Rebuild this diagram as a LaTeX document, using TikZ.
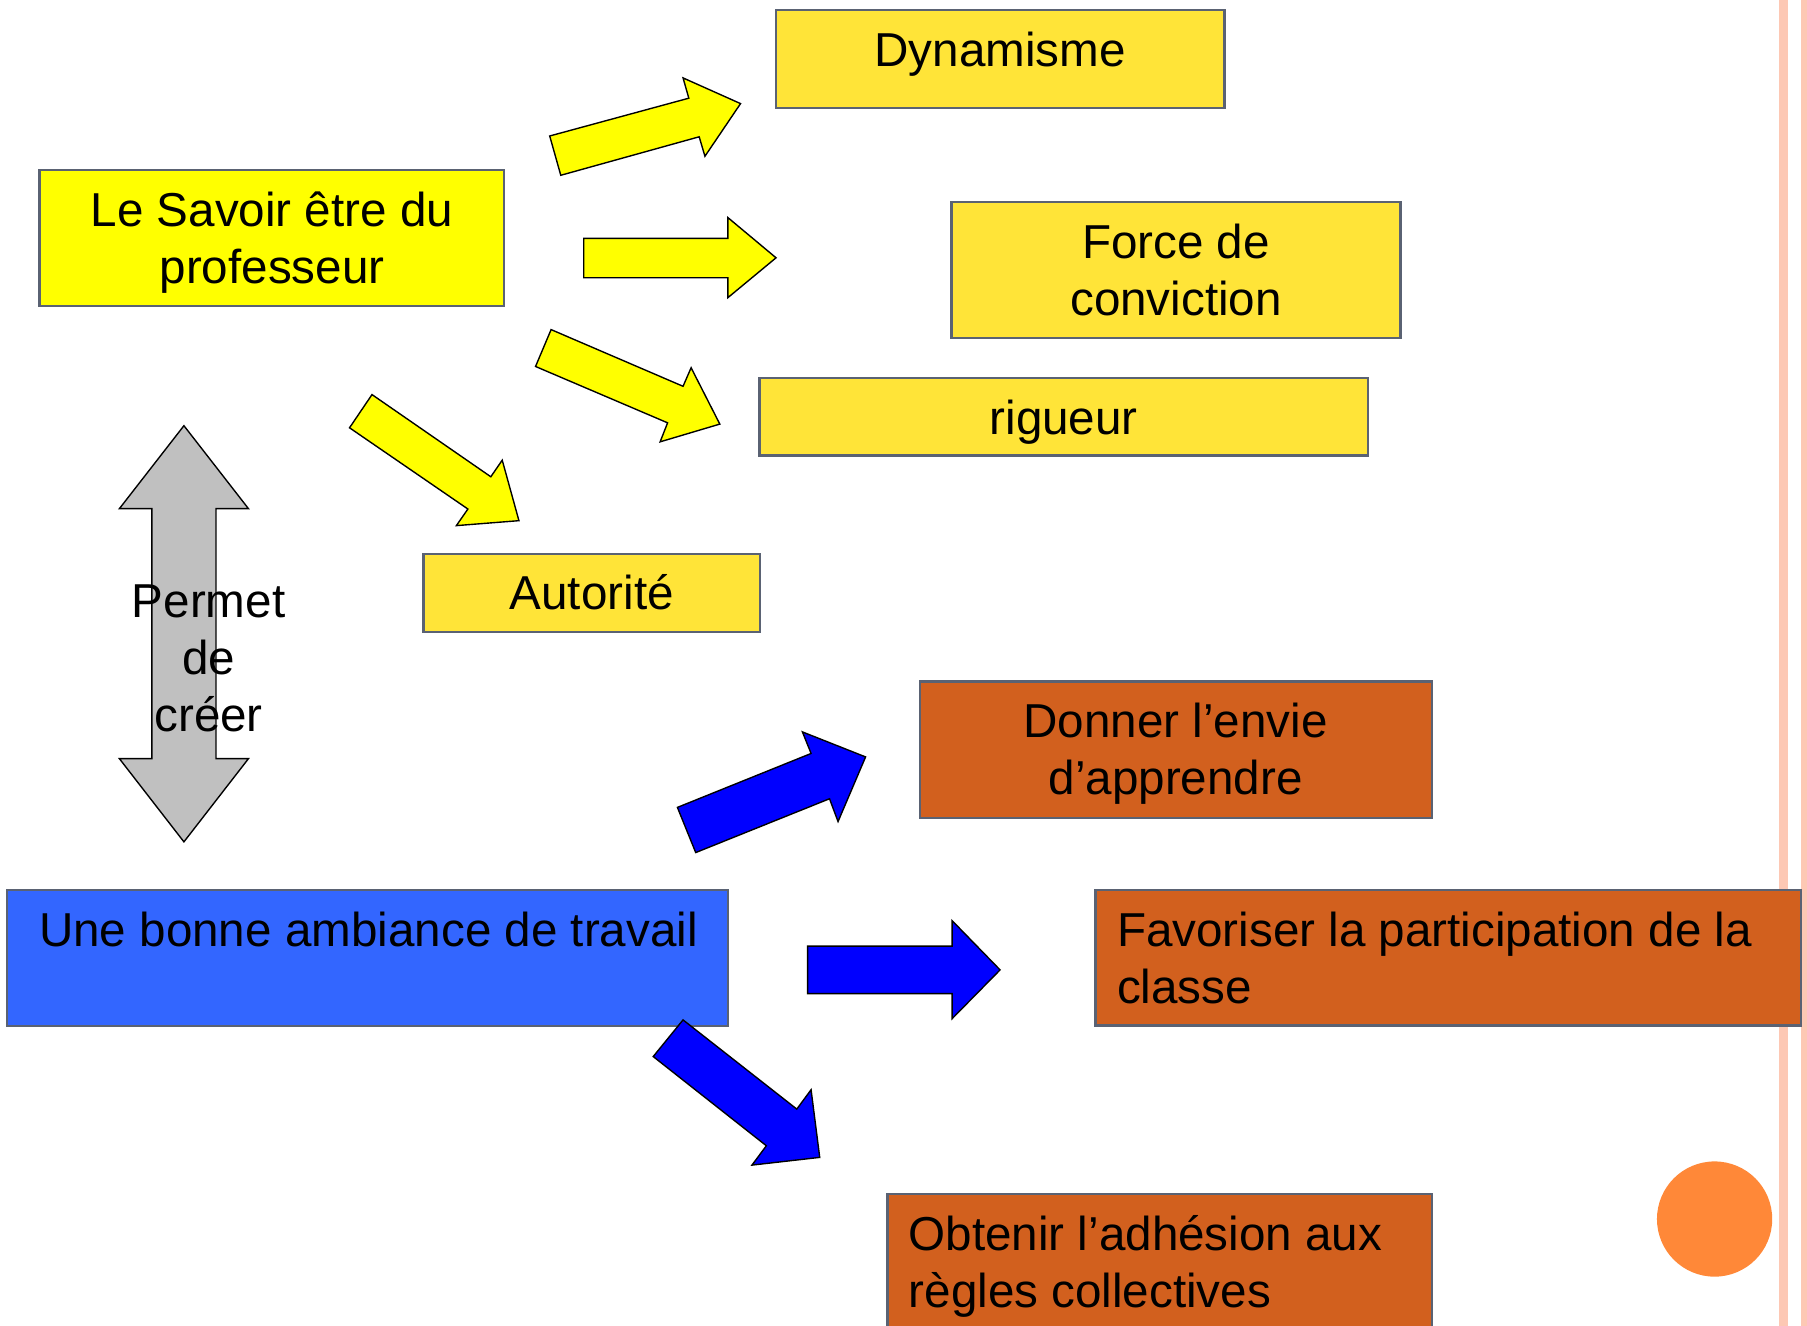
\documentclass[tikz,border=0pt]{standalone}
\usepackage{xcolor}
\usepackage{fontspec}
\setmainfont{Liberation Sans}
\usepackage{tikz}
\usetikzlibrary{positioning, calc}
\definecolor{boxyellow}{RGB}{255,228,56}
\definecolor{pureyellow}{RGB}{255,255,0}
\definecolor{boxorange}{RGB}{210,96,30}
\definecolor{boxblue}{RGB}{51,102,255}
\definecolor{arrowblue}{RGB}{0,0,255}
\definecolor{arrowgray}{RGB}{192,192,192}
\definecolor{boxline}{RGB}{90,98,115}
\definecolor{dotorange}{RGB}{255,136,56}
\definecolor{stripepink}{RGB}{253,200,180}

\begin{document}
\begin{tikzpicture}[x=1pt, y=-1pt,
	every node/.style={inner sep=0pt, outer sep=0pt, font=\fontsize{41.3}{49.5}\selectfont},
	box/.style={draw=boxline, line width=2pt, anchor=north west},
	txt/.style={anchor=base, align=center},
	ltxt/.style={anchor=base west, align=left},
	yarrow/.style={draw=black, line width=1.2pt, fill=pureyellow},
	barrow/.style={draw=black, line width=1.2pt, fill=arrowblue},
	garrow/.style={draw=black, line width=1.2pt, fill=arrowgray}]
	
	\useasboundingbox (0,0) rectangle (1568,1150.6);
	\clip (0,0) rectangle (1568,1150.6);
	
	% bande a droite
	\fill[stripepink] (1544,0) rectangle (1551.5,1150.6);
	\fill[stripepink] (1563,0) rectangle (1568,1150.6);
	
	% le savoir etre (base = derniere ligne)
	\node[box, fill=pureyellow, minimum width=403pt, minimum height=118pt] (savoir) at (34.4,147.5) {};
	\node[txt] (savoirtxt) at (236,246.4) {Le Savoir être du\\professeur};
	
	\node[box, fill=boxyellow, minimum width=389pt, minimum height=85.3pt] (dyn) at (673.4,8.6) {};
	\node[txt] (dyntxt) at (867.8,57.5) {Dynamisme};
	
	\node[box, fill=boxyellow, minimum width=389.5pt, minimum height=118.3pt] (force) at (825.7,175.2) {};
	\node[txt] (forcetxt) at (1020.5,274.1) {Force de\\conviction};
	
	\node[box, fill=boxyellow, minimum width=528pt, minimum height=67.6pt] (rig) at (659,327.7) {};
	\node[txt] (rigtxt) at (923,376.6) {rigueur};
	
	\node[box, fill=boxyellow, minimum width=292pt, minimum height=67.6pt] (aut) at (367.6,480.6) {};
	\node[txt] (auttxt) at (513.5,528.8) {Autorité};
	
	% fleches jaunes
	\draw[yarrow] (477,118) -- (597.7,85.2) -- (592.7,67.6) -- (642.6,89.9) -- (611.7,135.6) -- (606.7,118.7) -- (486.6,152.1) -- cycle;
	\draw[yarrow] (506.5,206.8) -- (631.6,206.8) -- (631.6,188.8) -- (673.4,223.7) -- (631.6,258.3) -- (631.6,241) -- (506.5,241) -- cycle;
	\draw[yarrow] (478.2,286) -- (592.7,335.2) -- (599.7,319.1) -- (624.6,368) -- (572.8,383.4) -- (579.3,366.9) -- (464.7,318) -- cycle;
	\draw[yarrow] (322.8,342.4) -- (425.9,413.7) -- (435.8,399.3) -- (450.3,451.8) -- (396,456.1) -- (406,441.7) -- (303.3,371.2) -- cycle;
	
	% fleche grise
	\draw[garrow] (159.6,369.4) -- ++(56,72) -- ++(-28.2,0) -- ++(0,216.9) -- ++(28.2,0) -- ++(-56,72.2)
		-- ++(-56,-72.2) -- ++(28.2,0) -- ++(0,-216.9) -- ++(-28.2,0) -- cycle;
	\node[txt] (permet) at (181,635) {Permet\\de\\créer};
	
	% ambiance
	\node[box, fill=boxblue, minimum width=625.6pt, minimum height=118.2pt] (amb) at (6,772) {};
	\node[txt] (ambtxt) at (319.8,821.4) {Une bonne ambiance de travail};
	
	\node[box, fill=boxorange, minimum width=444.2pt, minimum height=118.2pt] (envie) at (798.1,591.3) {};
	\node[txt] (envietxt) at (1020.2,689.3) {Donner l’envie\\d’apprendre};
	
	\node[box, fill=boxorange, minimum width=611.9pt, minimum height=117.8pt] (part) at (950.7,772) {};
	\node[ltxt] (parttxt) at (969.3,870.8) {Favoriser la participation de la\\classe};
	
	\node[box, fill=boxorange, minimum width=472.3pt, minimum height=140pt] (adh) at (770,1036) {};
	\node[ltxt] (adhtxt) at (788.5,1134.5) {Obtenir l’adhésion aux\\règles collectives};
	
	% fleches bleues
	\draw[barrow] (587.8,700.6) -- (703.8,653.8) -- (696.3,635.1) -- (751.1,656.8) -- (727.2,712.9) -- (719.8,693.1) -- (603.7,739.8) -- cycle;
	\draw[barrow] (700.8,821) -- (826.2,821) -- (826.2,798.9) -- (867.8,841.6) -- (826.2,883.9) -- (826.2,862.2) -- (700.8,862.2) -- cycle;
	\draw[barrow] (592.7,885) -- (691.4,962.4) -- (703.8,945.6) -- (711.3,1004.3) -- (652.5,1011) -- (665,994.2) -- (566.8,916.8) -- cycle;
	
	\node[circle, fill=dotorange, minimum size=100pt] (dot) at (1487.8,1057.8) {};
\end{tikzpicture}
\end{document}
